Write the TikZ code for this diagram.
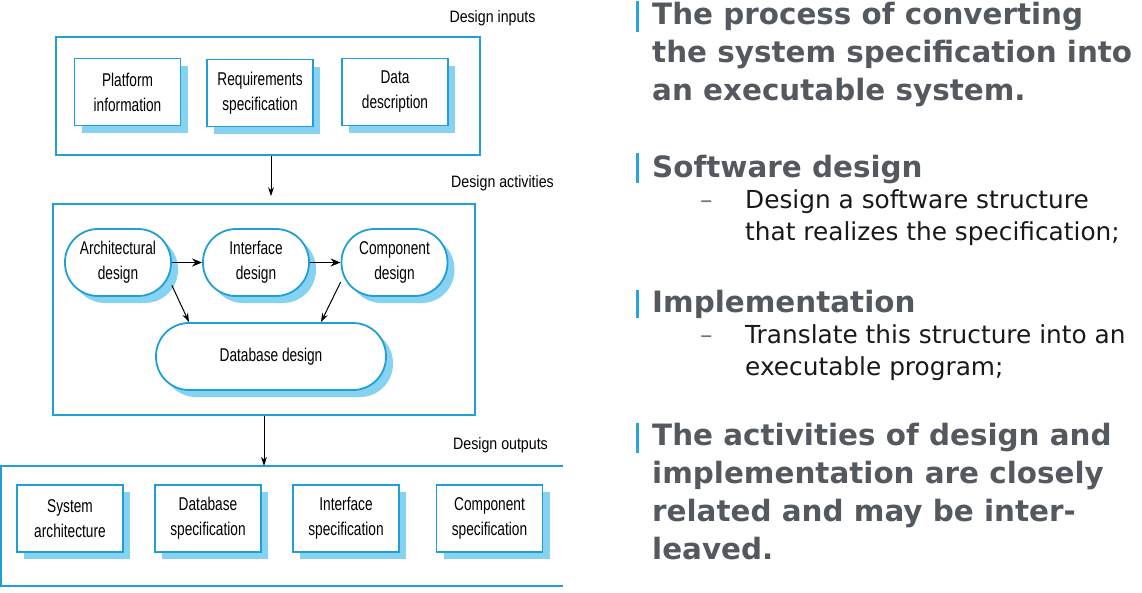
\documentclass[tikz,border=0pt]{standalone}
\usepackage{fontspec}
\setmainfont{DejaVu Sans}
\newfontfamily\figfont[FakeStretch=0.74]{Liberation Sans}
\newfontfamily\lblfont[FakeStretch=0.86]{Liberation Sans}
\usepackage{xcolor}
\usepackage{tikz}
\usetikzlibrary{shapes,shadows,arrows.meta}
\definecolor{boxblue}{RGB}{30,160,215}
\definecolor{shadeblue}{RGB}{134,210,241}
\definecolor{headgray}{RGB}{84,89,96}
\definecolor{barblue}{RGB}{42,164,220}
\tikzset{bigbox/.style={rectangle,draw=boxblue,line width=1.8pt,inner sep=0pt},
  docbox/.style={rectangle,draw=boxblue,line width=1.8pt,fill=white,inner sep=0pt,minimum width=106pt,minimum height=67pt,align=center,font=\figfont\fontsize{18.5}{25}\selectfont,drop shadow={shadow xshift=7pt,shadow yshift=-7pt,fill=shadeblue,opacity=1}},
  actbox/.style={docbox,rounded corners=33pt},
  lbl/.style={font=\lblfont\fontsize{16.5}{20}\selectfont,inner sep=0pt},
  head/.style={anchor=base west,inner sep=0pt,align=left,text=headgray,font=\bfseries\fontsize{29.4}{38}\selectfont},
  sub/.style={anchor=base west,inner sep=0pt,align=left,text=black!90,font=\fontsize{24.8}{32}\selectfont},
  bar/.style={fill=barblue,draw=none},
  thick arrow/.style={-{Stealth[length=10pt,width=8pt]},line width=1.8pt},
  thin arrow/.style={-{Stealth[length=9pt,width=6pt]},line width=1pt}}

\begin{document}
\begin{tikzpicture}[>=stealth,x=1pt,y=-1pt]
    \useasboundingbox (0,0) rectangle (1142,592);

    \node[lbl] (inlbl)at (492.5,18) {Design inputs};
    \node[bigbox,minimum width=424pt,minimum height=118pt] (inbox)at (268,96) {};
    \node[docbox] (plat)at (127.5,92) {Platform\\information};
    \node[docbox] (req)at (260,93) {Requirements\\specification};
    \node[docbox] (data)at (395,92) {Data\\description};

    \node[lbl] (actlbl)at (502.5,183) {Design activities};
    \node[bigbox,minimum width=422pt,minimum height=211pt] (actbox)at (264,309.5) {};
    \node[actbox] (arch)at (118,262.5) {Architectural\\design};
    \node[actbox] (iface)at (256,262.5) {Interface\\design};
    \node[actbox] (comp)at (394.5,262.5) {Component\\design};
    \node[actbox,minimum width=230pt] (db)at (271,356.5) {Database design};

    \node[lbl] (outlbl)at (500.5,445) {Design outputs};
    \node[inner sep=0pt,minimum width=562pt,minimum height=120pt] (outbox)at (282,526) {};
    \node[docbox] (sys)at (70,518.5) {System\\architecture};
    \node[docbox] (dbspec)at (208,518.5) {Database\\specification};
    \node[docbox] (ifspec)at (346,518.5) {Interface\\specification};
    \node[docbox] (cspec)at (489.5,518.5) {Component\\specification};

    \draw [bigbox] (outbox.north east) -- (outbox.north west) -- (outbox.south west) -- (outbox.south east);

    \draw [thin arrow,shorten >=7pt] ([xshift=3pt]inbox.south) to [] ([xshift=7pt]actbox.north);
    \draw [thick arrow] (arch) to [] (iface);
    \draw [thick arrow] (iface) to [] (comp);
    \draw [thin arrow] (arch.-23) to [] ([xshift=-82pt]db.north);
    \draw [thin arrow] (comp.200) to [] ([xshift=50pt]db.north);
    \draw [thin arrow] (actbox.south) to [] (actbox.south |- outbox.north);

    \fill[bar] (636,1) rectangle (639,32);
    \node[head] (h1)at (652,100) {The process of converting\\the system specification into\\an executable system.};
    \fill[bar] (636,153) rectangle (639,183);
    \node[head] (h2)at (652,177) {Software design};
    \node[sub,text=black!55] (d2)at (700,208) {–};
    \node[sub] (s2)at (745,240) {Design a software structure\\that realizes the specification;};
    \fill[bar] (636,290) rectangle (639,318);
    \node[head] (h3)at (652,312) {Implementation};
    \node[sub,text=black!55] (d3)at (700,343) {–};
    \node[sub] (s3)at (745,375) {Translate this structure into an\\executable program;};
    \fill[bar] (636,423) rectangle (639,453);
    \node[head] (h4)at (652,559) {The activities of design and\\implementation are closely\\related and may be inter-\\leaved.};
\end{tikzpicture}
\end{document}
